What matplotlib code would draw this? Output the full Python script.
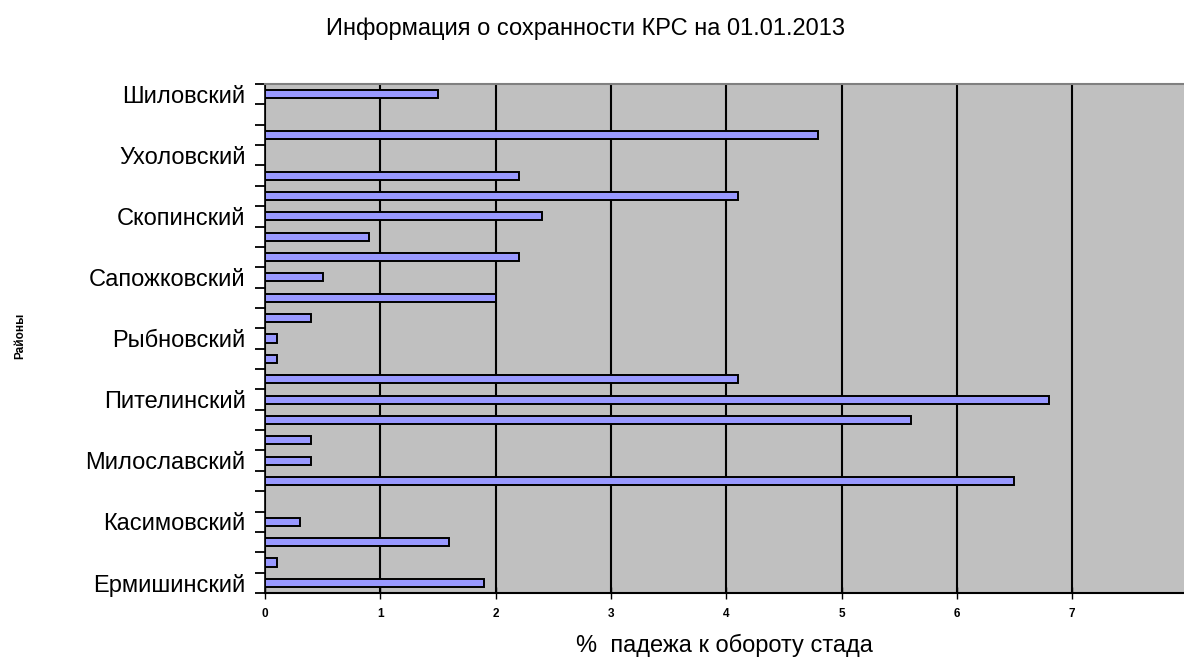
import numpy as np
import matplotlib
matplotlib.use('Agg')
import matplotlib.pyplot as plt
from matplotlib.ticker import FixedLocator

plt.rcParams['font.family'] = ['Liberation Sans', 'DejaVu Sans']

# районы снизу вверх (подписан каждый третий)
rayony = ['Ермишинский', '', '', 'Касимовский', '', '', 'Милославский', '', '',
          'Пителинский', '', '', 'Рыбновский', '', '', 'Сапожковский', '', '',
          'Скопинский', '', '', 'Ухоловский', '', '', 'Шиловский']
padezh = [1.9, 0.1, 1.6, 0.3, 0.0, 6.5, 0.4, 0.4, 5.6, 6.8, 4.1, 0.1, 0.1,
          0.4, 2.0, 0.5, 2.2, 0.9, 2.4, 4.1, 2.2, 0.0, 4.8, 0.0, 1.5]
x_ticks = [0, 1, 2, 3, 4, 5, 6, 7]

fig = plt.figure(figsize=(11.84, 6.59), dpi=100)
ax = fig.add_axes([265/1184, 66/659, 919/1184, 509/659])
ax.set_facecolor('#C0C0C0')

y = np.arange(len(padezh))
ax.barh(y, padezh, height=0.4, color='#9999FF', edgecolor='black', linewidth=1.4, zorder=3)

ax.set_xlim(0, 7.97)
ax.set_ylim(-0.5, len(padezh) - 0.5)

ax.set_xticks(x_ticks)
ax.set_xticklabels([str(v) for v in x_ticks], fontsize=8.5, fontweight='bold')
ax.tick_params(axis='x', direction='inout', length=8, width=1, pad=7)
ax.xaxis.grid(True, color='black', linewidth=1.5, zorder=1)
ax.set_axisbelow(True)

# деления на границах категорий, подписи в центре
ax.yaxis.set_major_locator(FixedLocator(np.arange(-0.5, len(padezh), 1)))
ax.set_yticklabels([])
ax.tick_params(axis='y', which='major', direction='out', length=7, width=1.3)
lab_pos = [i for i, r in enumerate(rayony) if r]
ax.yaxis.set_minor_locator(FixedLocator(lab_pos))
ax.set_yticklabels([rayony[i] for i in lab_pos], minor=True, fontsize=17)
ax.tick_params(axis='y', which='minor', length=0, pad=14)

ax.spines['right'].set_visible(False)
ax.spines['top'].set_color('#808080')
ax.spines['top'].set_linewidth(1.5)
ax.spines['left'].set_linewidth(1.2)
ax.spines['bottom'].set_linewidth(1.5)

fig.text(585/1184, 1 - 34.5/659, 'Информация о сохранности КРС на 01.01.2013',
         ha='center', va='baseline', fontsize=17)
fig.text(724/1184, 1 - 652/659, '%  падежа к обороту стада',
         ha='center', va='baseline', fontsize=17)
fig.text(20/1184, 1 - 336/659, 'Районы', rotation=90, ha='center', va='center',
         fontsize=8.5, fontweight='bold')

plt.savefig('out.png', dpi=100)
